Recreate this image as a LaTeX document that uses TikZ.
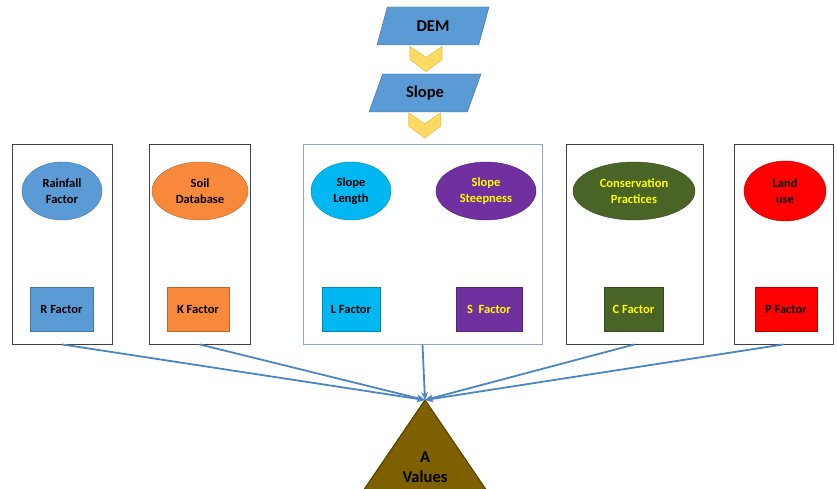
\documentclass[tikz,border=0pt]{standalone}
\usepackage{fontspec}
\setmainfont{Carlito}
\usetikzlibrary{shapes.geometric,arrows.meta,calc}

\definecolor{rainblue}{HTML}{5B9BD5}
\definecolor{soilorange}{HTML}{F8883A}
\definecolor{lenblue}{HTML}{00B7F1}
\definecolor{steeppurple}{HTML}{7030A0}
\definecolor{consgreen}{HTML}{4A6327}
\definecolor{landred}{HTML}{FF0000}
\definecolor{avalbrown}{HTML}{7F6000}
\definecolor{arrowblue}{HTML}{4A86C5}
\definecolor{panelblue}{HTML}{8EA9C8}
\definecolor{chevfill}{HTML}{FFDB63}
\definecolor{chevedge}{HTML}{E8BE3C}
\definecolor{labelyellow}{HTML}{FFFF00}

\begin{document}
\begin{tikzpicture}[x=1pt,y=-1pt,
every node/.style={align=center,font=\fontsize{12.5}{15.5}\selectfont\bfseries},
panel/.style={draw=black!75,line width=0.8pt,minimum height=200pt,inner sep=0pt},
oval/.style={ellipse,draw=#1!75!black,fill=#1,minimum height=58pt,inner sep=0pt},
factor/.style={rectangle,draw=#1!75!black,line width=0.8pt,fill=#1,minimum height=44pt,inner sep=0pt},
para/.style={trapezium,trapezium left angle=46,trapezium right angle=134,trapezium stretches body,
  draw=rainblue!70!black,fill=rainblue,minimum width=112pt,minimum height=38pt,inner sep=0pt,
  font=\fontsize{16.5}{19}\selectfont\bfseries},
flow/.style={-{Stealth[length=8pt,width=7pt]},draw=arrowblue,line width=1.8pt},
chev/.pic={
  \filldraw[fill=chevfill,draw=chevedge,line width=0.6pt] (-16,-13) -- (0,-2) -- (16,-13) -- (16,0) -- (0,12) -- (-16,0) -- cycle;
  \draw[chevedge!70!white,line width=0.6pt] (-10,-2) -- (0,5) -- (10,-2);
}
]
\useasboundingbox (0,0) rectangle (837,489);

% top chain
\node[para] (dem) at (433,26) {DEM};
\node[para] (slope) at (425,93) {Slope};

% panels
\node[panel,minimum width=100pt] (rbox) at (62,244) {};
\node[panel,minimum width=101pt] (kbox) at (199.5,244) {};
\node[panel,draw=panelblue,minimum width=239pt] (lsbox) at (422.5,244) {};
\node[panel,minimum width=137pt] (cbox) at (634.5,244) {};
\node[panel,minimum width=99pt] (pbox) at (783.5,244) {};

\pic at ($(dem.south)!0.5!(slope.north)+(-3,0)$) {chev};
\pic at ($(slope.south)!0.5!(lsbox.north)+(1,-2)$) {chev};

% data layers
\node[oval=rainblue,minimum width=80pt] (rain) at (62,191) {Rainfall\\Factor};
\node[oval=soilorange,minimum width=96pt] (soil) at (200,191) {Soil\\Database};
\node[oval=lenblue,minimum width=80pt] (len) at (351,191) {Slope\\Length};
\node[oval=steeppurple,minimum width=100pt,text=labelyellow] (steep) at (486,191) {Slope\\Steepness};
\node[oval=consgreen,minimum width=122pt,text=labelyellow] (cons) at (634,191) {Conservation\\Practices};
\node[oval=landred,minimum width=82pt,minimum height=60pt] (land) at (785,191) {Land\\use};

% factors
\node[factor=rainblue,minimum width=63pt] (rfac) at (61.5,309) {R Factor};
\node[factor=soilorange,minimum width=62pt] (kfac) at (198,309) {K Factor};
\node[factor=lenblue,minimum width=58pt] (lfac) at (351,309) {L Factor};
\node[factor=steeppurple,minimum width=66pt,text=labelyellow] (sfac) at (489,309) {S~~Factor};
\node[factor=consgreen,minimum width=59pt,text=labelyellow] (cfac) at (633.5,309) {C Factor};
\node[factor=landred,minimum width=62pt] (pfac) at (786,309) {P Factor};

% result
\coordinate (apex) at (425,400);
\filldraw[fill=avalbrown,draw=avalbrown!70!black,line width=1.2pt] (apex) -- (489,494) -- (361,494) -- cycle;
\node[font=\fontsize{16.5}{19.5}\selectfont\bfseries] (aval) at (425,467) {A\\Values};

\foreach \b in {rbox,kbox,lsbox,cbox,pbox}
  \draw[flow] (\b.south) -- (apex);
\end{tikzpicture}
\end{document}
